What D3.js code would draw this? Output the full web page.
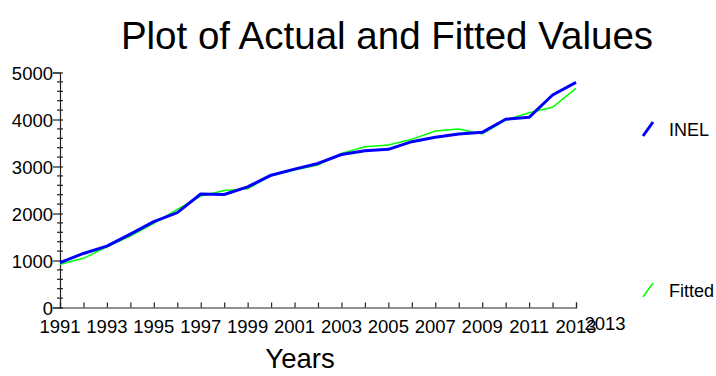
<!DOCTYPE html>
<html>
<head>
<meta charset="utf-8">
<script src="https://cdn.jsdelivr.net/npm/d3@7"></script>
<style>
  html, body { margin: 0; padding: 0; background: #fff; }
  svg { display: block; font-family: "Liberation Sans", Arial, sans-serif; }
</style>
</head>
<body>
<svg id="chart" width="716" height="376"></svg>
<script>
const years = [1991,1992,1993,1994,1995,1996,1997,1998,1999,2000,2001,2002,2003,2004,2005,2006,2007,2008,2009,2010,2011,2012,2013];
const inel = [953,1150,1305,1560,1826,2017,2415,2405,2565,2815,2945,3065,3255,3337,3365,3528,3621,3691,3727,4004,4047,4521,4791];
const fitted = [920,1046,1290,1521,1790,2089,2370,2490,2525,2805,2926,3032,3280,3422,3457,3578,3755,3798,3691,3989,4145,4260,4663];
const yTicks = [0,1000,2000,3000,4000,5000];
const xLabels = [1991,1993,1995,1997,1999,2001,2003,2005,2007,2009,2011,2013];
const seriesNames = ["INEL","Fitted"];
const seriesColors = ["#0000ff","#00ff00"];

const svg = d3.select("#chart");
const x = d3.scaleLinear().domain([1991, 2013]).range([60, 576]);
const y = d3.scaleLinear().domain([0, 5000]).range([307.5, 72.5]);
const axisColor = "#222";

// Title
svg.append("text").attr("x", 387).attr("y", 49).attr("text-anchor", "middle")
  .attr("font-size", 38.5).attr("fill", "#000").text("Plot of Actual and Fitted Values");

// Y axis
const minor = d3.range(0, 5001, 200).filter(v => v % 1000 !== 0);
const gy = svg.append("g").attr("transform", "translate(60,0)");
gy.call(d3.axisLeft(y).tickValues(yTicks).tickSize(7).tickPadding(0).tickFormat(d3.format("d")));
gy.select(".domain").attr("stroke", axisColor).attr("stroke-width", 1.2);
gy.selectAll(".tick line").attr("x1", 3).attr("stroke", axisColor).attr("stroke-width", 1.2);
gy.selectAll(".tick text").attr("font-size", 18.5).attr("fill", "#000").attr("font-family", "Liberation Sans, Arial, sans-serif").attr("x", -7).attr("dy", "0.36em");
gy.selectAll(".minor").data(minor).join("line").attr("class", "minor")
  .attr("x1", -3).attr("x2", 3).attr("y1", d => y(d)).attr("y2", d => y(d))
  .attr("stroke", axisColor).attr("stroke-width", 1.2);

// X axis
const gx = svg.append("g").attr("transform", `translate(0,${y(0)})`);
gx.call(d3.axisBottom(x).tickValues(years).tickSize(-5).tickFormat(""));
gx.select(".domain").attr("stroke", axisColor).attr("stroke-width", 1.2);
gx.selectAll(".tick line").attr("stroke", axisColor).attr("stroke-width", 1.2);
gx.selectAll(".xl").data(xLabels).join("text").attr("class", "xl")
  .attr("x", d => x(d)).attr("y", 25).attr("text-anchor", "middle")
  .attr("font-size", 18.5).attr("fill", "#000").text(d => d);
// extra end label (as in the reference)
gx.append("text").attr("x", x(2013) + 29).attr("y", 22).attr("text-anchor", "middle")
  .attr("font-size", 18.5).attr("fill", "#000").text(years[years.length - 1]);

// X title
svg.append("text").attr("x", 300).attr("y", 368).attr("text-anchor", "middle")
  .attr("font-size", 27.5).attr("fill", "#000").text("Years");

// Lines
const line = d3.line().x((d, i) => x(years[i])).y(d => y(d));
svg.append("path").datum(fitted).attr("d", line).attr("fill", "none")
  .attr("stroke", seriesColors[1]).attr("stroke-width", 1.5);
svg.append("path").datum(inel).attr("d", line).attr("fill", "none")
  .attr("stroke", seriesColors[0]).attr("stroke-width", 3).attr("stroke-linejoin", "round");

// Legend
const legendY = [129, 290];
seriesNames.forEach((name, i) => {
  svg.append("line").attr("x1", 643).attr("y1", legendY[i] + 7).attr("x2", 653).attr("y2", legendY[i] - 7)
    .attr("stroke", seriesColors[i]).attr("stroke-width", i === 0 ? 3 : 1.5);
  svg.append("text").attr("x", 669).attr("y", legendY[i] + 7)
    .attr("font-size", 18).attr("fill", "#000").text(name);
});
</script>
</body>
</html>
